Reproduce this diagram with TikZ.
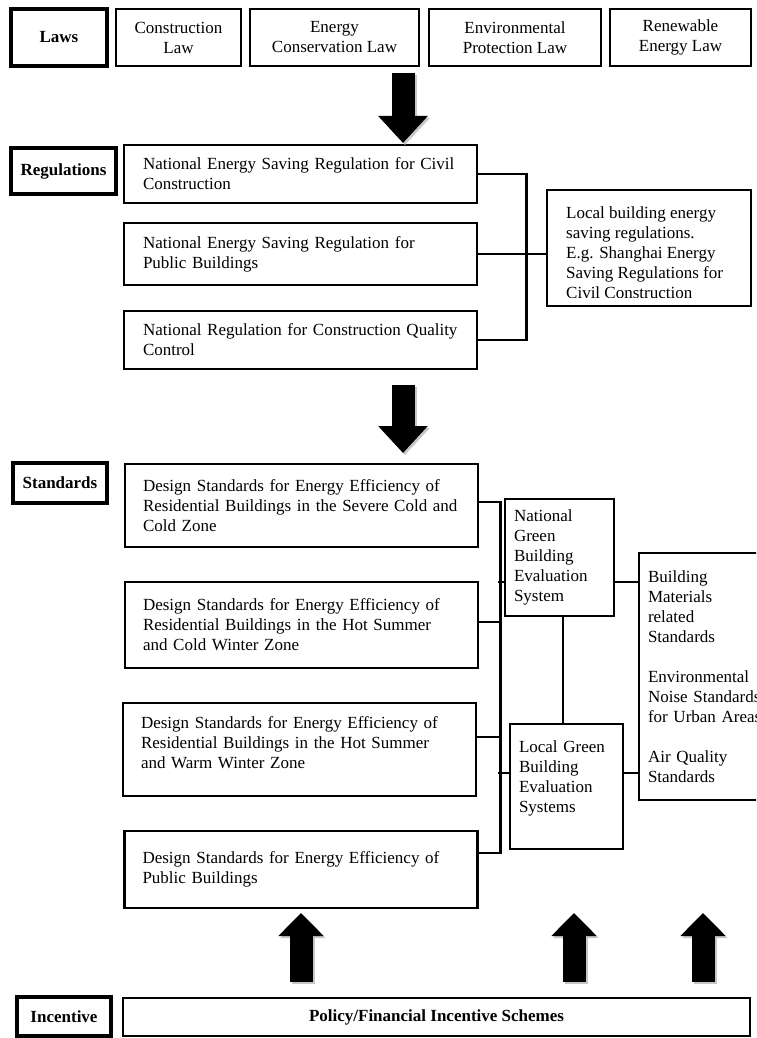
\documentclass[tikz,border=0pt]{standalone}
\usepackage{fontspec}
\setmainfont{Liberation Serif}
\usetikzlibrary{arrows.meta}
\begin{document}
\begin{tikzpicture}[x=1pt,y=-1pt,
  font=\fontsize{17}{20}\selectfont,
  box/.style={draw, line width=2.6pt, fill=white, inner ysep=0pt},
  lbl/.style={draw, line width=4pt, fill=white, font=\fontsize{17}{20}\selectfont\bfseries, align=center, inner sep=0pt},
  lawbox/.style={box, align=center, inner xsep=0pt, minimum height=57pt},
  txtbox/.style={box, align=left},
  conn/.style={line width=2.5pt},
  bigdown/.style={line width=23pt, -{Triangle[length=27pt,width=48pt]}},
  bigup/.style={line width=23pt, -{Triangle[length=23pt,width=44pt]}},
  shade/.style={draw=black!22, transform canvas={shift={(2pt,-2pt)}}}
  ]
\useasboundingbox (0,0) rectangle (756,1038);
\fill[white] (0,0) rectangle (756,1038);
\clip (0,0) rectangle (756,1038);

% ---------- Laws ----------
\node[lbl, minimum width=96pt, minimum height=57pt] (laws) at (59,37.5) {Laws};
\node[lawbox, minimum width=125pt] (law1) at (178.5,37.5) {Construction\\Law};
\node[lawbox, minimum width=169pt] (law2) at (334.5,37.5) {Energy\\Conservation Law};
\node[lawbox, minimum width=172pt] (law3) at (515,37.5) {Environmental\\Protection Law};
\node[lawbox, minimum width=141pt] (law4) at (680.5,37.5) {Renewable\\Energy Law};

% ---------- Regulations ----------
\node[lbl, minimum width=105pt, minimum height=46pt] (reg) at (63.5,171) {Regulations};
\node[txtbox, text width=315pt, inner xsep=19pt, minimum height=58pt] (r1) at (300.5,174)
  {\mbox{National Energy Saving Regulation for Civil}\\Construction};
\node[txtbox, text width=315pt, inner xsep=19pt, minimum height=62pt] (r2) at (300.5,254)
  {\mbox{National Energy Saving Regulation for}\\Public Buildings};
\node[txtbox, text width=315pt, inner xsep=19pt, minimum height=58pt] (r3) at (300.5,340)
  {\mbox{National Regulation for Construction Quality}\\Control};
\node[box, minimum width=204pt, minimum height=116pt] (loc) at (649,248) {};
\begin{scope}
  \clip (550,193) rectangle (748,297);
  \node[anchor=north west, inner sep=0pt, align=left] (loctext) at (566,207)
    {Local building energy\\saving regulations.\\E.g. Shanghai Energy\\Saving Regulations for\\Civil Construction};
\end{scope}
\draw[conn] (r1.east) -- ++(48,0) |- (r3.east);
\draw[conn] (r2.east) -- (r2.east -| loc.west);

% ---------- Standards ----------
\node[lbl, minimum width=94pt, minimum height=40pt] (std) at (60,483) {Standards};
\node[txtbox, text width=317pt, inner xsep=18pt, minimum height=83pt] (s1) at (301.5,505.5)
  {\mbox{Design Standards for Energy Efficiency of}\\\mbox{Residential Buildings in the Severe Cold and}\\Cold Zone};
\node[txtbox, text width=317pt, inner xsep=18pt, minimum height=86pt] (s2) at (301.5,625)
  {\mbox{Design Standards for Energy Efficiency of}\\\mbox{Residential Buildings in the Hot Summer}\\and Cold Winter Zone};
\node[txtbox, text width=317pt, inner xsep=18pt, minimum height=93pt] (s3) at (299.5,749.5)
  {\mbox{Design Standards for Energy Efficiency of}\\\mbox{Residential Buildings in the Hot Summer}\\and Warm Winter Zone\\[-6pt]\mbox{}};
\node[txtbox, text width=317pt, inner xsep=18pt, minimum height=77pt] (s4) at (301,869.5)
  {\mbox{Design Standards for Energy Efficiency of}\\Public Buildings};

\node[txtbox, text width=91pt, inner xsep=9pt, minimum height=117pt] (nat) at (559.5,557.5)
  {National\\Green\\Building\\Evaluation\\System};
\node[txtbox, text width=95pt, inner xsep=9pt, minimum height=125pt] (lg) at (566.5,786.5)
  {Local Green\\Building\\Evaluation\\Systems\\\mbox{}};
\node[txtbox, text width=130pt, inner xsep=9pt, minimum height=247pt] (rb) at (713,676.5)
  {Building\\Materials\\related\\Standards\\[20pt]Environmental\\Noise Standards\\for Urban Areas\\[20pt]Air Quality\\Standards};

\draw[conn] ([yshift=3.5pt]s1.east) -- ++(21,0) |- ([yshift=16.5pt]s4.east);
\draw[conn] ([yshift=3pt]s2.east) -- ++(21,0);
\draw[conn] ([yshift=12.5pt]s3.east) -- ++(23,0);
\draw[conn] ([yshift=-24.5pt]nat.west) -- ++(-6,0);
\draw[conn] ([yshift=13.5pt]lg.west) -- ++(-11,0);
\draw[conn] ([xshift=3.5pt]nat.south) -- ++(0,108);
\draw[conn] ([yshift=-24.5pt]nat.east) -- ++(25,0);
\draw[conn] ([yshift=13.5pt]lg.east) -- ++(16,0);

% ---------- Incentive ----------
\node[lbl, minimum width=94pt, minimum height=39pt] (inc) at (64,1016.5) {Incentive};
\node[box, minimum width=627pt, minimum height=38pt, font=\fontsize{17}{20}\selectfont\bfseries] (pol) at (436.5,1017)
  {Policy/Financial Incentive Schemes};

% ---------- Big arrows ----------
\coordinate (a1s) at (403,73);  \coordinate (a1e) at (403,143);
\coordinate (a2s) at (403,385); \coordinate (a2e) at (403,453);
\coordinate (u1s) at (301,982); \coordinate (u1e) at (301,913);
\coordinate (u2s) at (574,982); \coordinate (u2e) at (574,913);
\coordinate (u3s) at (703,982); \coordinate (u3e) at (703,913);
\foreach \s/\e in {a1s/a1e, a2s/a2e} {
  \draw[bigdown, shade] (\s) -- (\e);
  \draw[bigdown] (\s) -- (\e);
}
\foreach \s/\e in {u1s/u1e, u2s/u2e, u3s/u3e} {
  \draw[bigup, shade] (\s) -- (\e);
  \draw[bigup] (\s) -- (\e);
}
\end{tikzpicture}
\end{document}
